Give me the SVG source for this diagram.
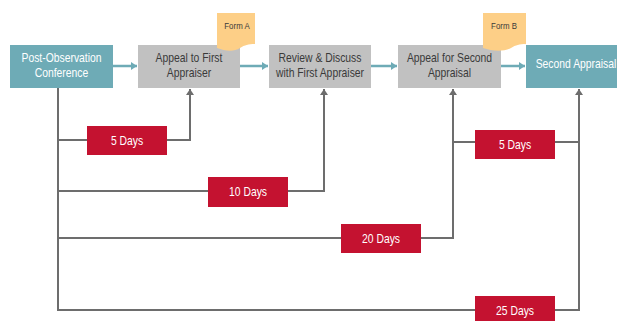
<svg xmlns="http://www.w3.org/2000/svg" width="617" height="321" viewBox="0 0 617 321">
<defs>
<style>
.lbl{font-family:"Liberation Sans",Arial,sans-serif;text-anchor:middle}
.teal{fill:#6eabb6}
.grey{fill:#c1c1c1}
.red{fill:#c41230}
.note{fill:#fdcf87}
.wt{fill:#ffffff;font-size:12.5px}
.dk{fill:#3a3a3a;font-size:12.5px}
.sm{fill:#3a3a3a;font-size:9.5px}
.ln{fill:none;stroke:#6d6d6d;stroke-width:2}
.ta{fill:none;stroke:#6eabb6;stroke-width:2.5}
</style>
<marker id="ah" markerWidth="8" markerHeight="8" refX="6" refY="4" orient="auto" markerUnits="userSpaceOnUse">
<path d="M0,0 L6,4 L0,8 Z" fill="#6d6d6d"/>
</marker>
<marker id="ta" markerWidth="8" markerHeight="8" refX="6" refY="4" orient="auto" markerUnits="userSpaceOnUse">
<path d="M0,0 L6,4 L0,8 Z" fill="#6eabb6"/>
</marker>
</defs>
<rect width="617" height="321" fill="#ffffff"/>
<g id="connectors">
<path class="ln" d="M58,88 V310 H475"/>
<path class="ln" d="M58,140 H87"/>
<path class="ln" d="M167,140 H190 V89" marker-end="url(#ah)"/>
<path class="ln" d="M58,191 H324 V89" marker-end="url(#ah)"/>
<path class="ln" d="M58,238 H453 V89" marker-end="url(#ah)"/>
<path class="ln" d="M453,142 H475"/>
<path class="ln" d="M555,142 H579"/>
<path class="ln" d="M555,310 H579 V89" marker-end="url(#ah)"/>
<path class="ta" d="M113,66 H137" marker-end="url(#ta)"/>
<path class="ta" d="M240,66 H268" marker-end="url(#ta)"/>
<path class="ta" d="M371,66 H397" marker-end="url(#ta)"/>
<path class="ta" d="M501,66 H525" marker-end="url(#ta)"/>
</g>
<g id="post-observation">
<rect class="teal" x="10" y="45" width="103" height="43"/>
<text class="lbl wt" transform="translate(61.5,61.5) scale(0.83,1)">Post-Observation</text>
<text class="lbl wt" transform="translate(61.5,77) scale(0.83,1)">Conference</text>
</g>
<g id="appeal-first">
<rect class="grey" x="138" y="45" width="102" height="43"/>
<text class="lbl dk" transform="translate(189,61.5) scale(0.83,1)">Appeal to First</text>
<text class="lbl dk" transform="translate(189,77) scale(0.83,1)">Appraiser</text>
</g>
<g id="form-a">
<path class="note" d="M217,13 H255 V44 C248,44 245,45 240,48 C234,52 225,51 217,48 Z"/>
<text class="lbl sm" transform="translate(237,29) scale(0.83,1)">Form A</text>
</g>
<g id="review">
<rect class="grey" x="269" y="45" width="102" height="43"/>
<text class="lbl dk" transform="translate(320,61.5) scale(0.83,1)">Review &amp; Discuss</text>
<text class="lbl dk" transform="translate(320,77) scale(0.83,1)">with First Appraiser</text>
</g>
<g id="appeal-second">
<rect class="grey" x="398" y="45" width="103" height="43"/>
<text class="lbl dk" transform="translate(449.5,61.5) scale(0.83,1)">Appeal for Second</text>
<text class="lbl dk" transform="translate(449.5,77) scale(0.83,1)">Appraisal</text>
</g>
<g id="form-b">
<path class="note" d="M483,13 H526 V44 C519,44 516,45 511,48 C503,52 492,51 483,48 Z"/>
<text class="lbl sm" transform="translate(504,29) scale(0.83,1)">Form B</text>
</g>
<g id="second-appraisal">
<rect class="teal" x="526" y="45" width="103" height="43"/>
<text class="lbl wt" transform="translate(576,68) scale(0.83,1)">Second Appraisal</text>
</g>
<g id="d5a">
<rect class="red" x="87" y="126" width="80" height="29"/>
<text class="lbl wt" transform="translate(127,144.5) scale(0.83,1)">5 Days</text>
</g>
<g id="d10">
<rect class="red" x="208" y="177" width="80" height="30"/>
<text class="lbl wt" transform="translate(248,196) scale(0.83,1)">10 Days</text>
</g>
<g id="d20">
<rect class="red" x="341" y="224" width="80" height="29"/>
<text class="lbl wt" transform="translate(381,243) scale(0.83,1)">20 Days</text>
</g>
<g id="d5b">
<rect class="red" x="475" y="130" width="80" height="29"/>
<text class="lbl wt" transform="translate(515,148.5) scale(0.83,1)">5 Days</text>
</g>
<g id="d25">
<rect class="red" x="475" y="296" width="80" height="29"/>
<text class="lbl wt" transform="translate(515,314.5) scale(0.83,1)">25 Days</text>
</g>
</svg>
